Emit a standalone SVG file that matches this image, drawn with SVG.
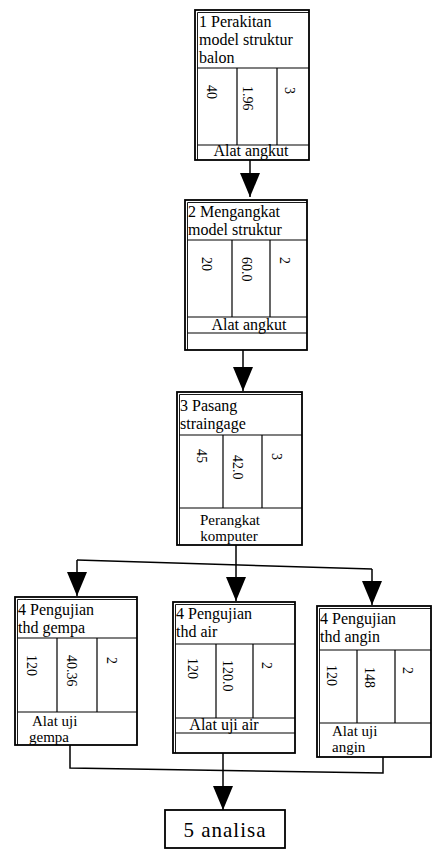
<svg xmlns="http://www.w3.org/2000/svg" width="433" height="854" viewBox="0 0 433 854">
<defs>
<style>
.bg{fill:#fff}
.ob{fill:#fff;stroke:#000;stroke-width:1.8}
.ib{fill:none;stroke:#000;stroke-width:0.9}
.ln{fill:none;stroke:#000;stroke-width:1.2}
.cn{fill:none;stroke:#000;stroke-width:1.5}
text{font-family:"Liberation Serif","Times New Roman",serif;fill:#000}
.hd{font-size:16px}
.num{font-size:14px}
.ft{font-size:16px}
.ft2{font-size:15px}
.mid{text-anchor:middle}
.an{font-size:21px;letter-spacing:1px;text-anchor:middle}
</style>
<marker id="ah" markerUnits="userSpaceOnUse" viewBox="0 0 24 20" refX="24" refY="10" markerWidth="24" markerHeight="20" orient="auto">
<path d="M0,0 L24,10 L0,20 Z" fill="#000"/>
</marker>
</defs>
<rect class="bg" x="0" y="0" width="433" height="854"/>

<g id="connectors">
<path class="cn" d="M250,160 V197" marker-end="url(#ah)"/>
<path class="cn" d="M243,350 V391" marker-end="url(#ah)"/>
<path class="cn" d="M236,545 V601" marker-end="url(#ah)"/>
<path class="cn" d="M77,560 L372,569"/>
<path class="cn" d="M77,560 V596" marker-end="url(#ah)"/>
<path class="cn" d="M372,569 V605" marker-end="url(#ah)"/>
<path class="cn" d="M70,745 V768 L383,773 V757"/>
<path class="cn" d="M223,753 V810" marker-end="url(#ah)"/>
</g>

<g id="node1">
<rect class="ob" x="195" y="10" width="114" height="150"/>
<path class="ib" d="M197.5,160 V12.5 H309"/>
<path class="ln" d="M197.5,68 H309 M237,68 V145 M277,68 V145 M197.5,145 H309"/>
<text class="hd" x="199" y="27">1 Perakitan</text>
<text class="hd" x="199" y="45">model struktur</text>
<text class="hd" x="199" y="63">balon</text>
<text class="num" transform="translate(207,85) rotate(90)">40</text>
<text class="num" transform="translate(243,86) rotate(90)">1.96</text>
<text class="num" transform="translate(285,87) rotate(90)">3</text>
<text class="ft mid" x="251" y="156">Alat angkut</text>
</g>

<g id="node2">
<rect class="ob" x="185" y="200" width="122" height="150"/>
<path class="ib" d="M187.5,350 V202.5 H307"/>
<path class="ln" d="M187.5,240 H307 M232,240 V317 M270,240 V317 M187.5,317 H307 M187.5,333 H307"/>
<text class="hd" x="188" y="217">2 Mengangkat</text>
<text class="hd" x="188" y="235">model struktur</text>
<text class="num" transform="translate(202,257) rotate(90)">20</text>
<text class="num" transform="translate(242,257) rotate(90)">60.0</text>
<text class="num" transform="translate(280,257) rotate(90)">2</text>
<text class="ft mid" x="249" y="330">Alat angkut</text>
</g>

<g id="node3">
<rect class="ob" x="177" y="392" width="125" height="153"/>
<path class="ib" d="M179.5,545 V394.5 H302"/>
<path class="ln" d="M179.5,435 H302 M223,435 V508 M262,435 V508 M179.5,508 H302"/>
<text class="hd" x="180" y="411">3 Pasang</text>
<text class="hd" x="180" y="429">straingage</text>
<text class="num" transform="translate(197,449) rotate(90)">45</text>
<text class="num" transform="translate(233,455) rotate(90)">42.0</text>
<text class="num" transform="translate(272,453) rotate(90)">3</text>
<text class="ft2 mid" x="230" y="525">Perangkat</text>
<text class="ft2 mid" x="229" y="541">komputer</text>
</g>

<g id="node4a">
<rect class="ob" x="15" y="597" width="122" height="148"/>
<path class="ib" d="M17.5,745 V599.5 H137"/>
<path class="ln" d="M17.5,638 H137 M57,638 V712 M97,638 V712 M17.5,712 H137"/>
<text class="hd" x="18" y="615">4 Pengujian</text>
<text class="hd" x="18" y="633">thd gempa</text>
<text class="num" transform="translate(27,655) rotate(90)">120</text>
<text class="num" transform="translate(67,655) rotate(90)">40.36</text>
<text class="num" transform="translate(107,657) rotate(90)">2</text>
<text class="ft2" x="32" y="726">Alat uji</text>
<text class="ft2" x="29" y="742">gempa</text>
</g>

<g id="node4b">
<rect class="ob" x="173" y="602" width="122" height="151"/>
<path class="ib" d="M175.5,753 V604.5 H295"/>
<path class="ln" d="M175.5,644 H295 M216,644 V718 M253,644 V718 M175.5,718 H295 M175.5,733 H295"/>
<text class="hd" x="176" y="619">4 Pengujian</text>
<text class="hd" x="176" y="637">thd air</text>
<text class="num" transform="translate(188,658) rotate(90)">120</text>
<text class="num" transform="translate(223,660) rotate(90)">120.0</text>
<text class="num" transform="translate(262,662) rotate(90)">2</text>
<text class="ft mid" x="224" y="730">Alat uji air</text>
</g>

<g id="node4c">
<rect class="ob" x="317" y="606" width="114" height="151"/>
<path class="ib" d="M319.5,757 V608.5 H431"/>
<path class="ln" d="M319.5,650 H431 M357,650 V723 M395,650 V723 M319.5,723 H431"/>
<text class="hd" x="320" y="624">4 Pengujian</text>
<text class="hd" x="320" y="642">thd angin</text>
<text class="num" transform="translate(327,665) rotate(90)">120</text>
<text class="num" transform="translate(365,667) rotate(90)">148</text>
<text class="num" transform="translate(403,667) rotate(90)">2</text>
<text class="ft2" x="332" y="736">Alat uji</text>
<text class="ft2" x="332" y="752">angin</text>
</g>

<g id="node5">
<rect class="ob" x="165" y="810" width="120" height="38"/>
<text class="an" x="225" y="837">5 analisa</text>
</g>
</svg>
